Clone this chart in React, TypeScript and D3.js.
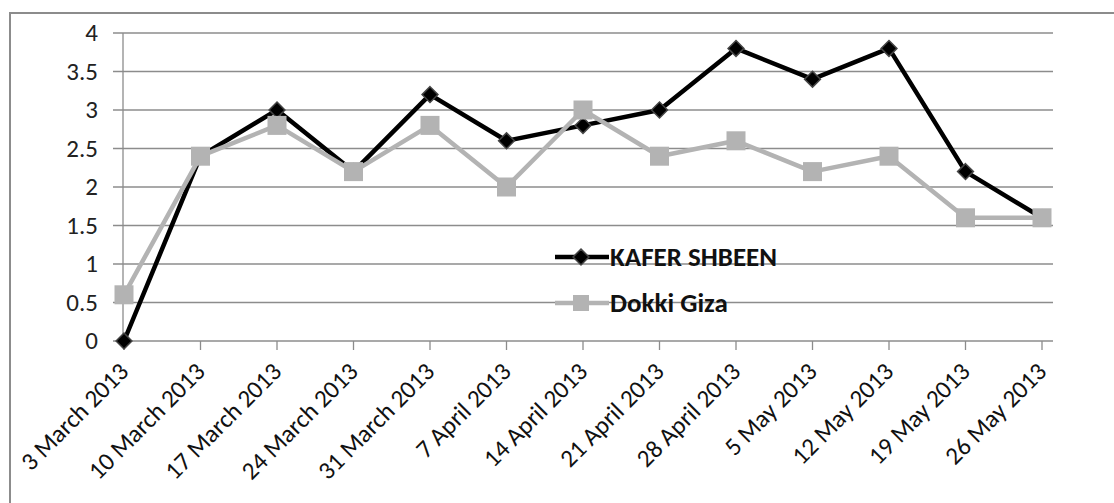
import * as d3 from "d3";
import React, { useEffect, useRef } from "react";

// fechas (categorias)
const dates = [
  "3 March 2013", "10 March 2013", "17 March 2013", "24 March 2013",
  "31 March 2013", "7 April 2013", "14 April 2013", "21 April 2013",
  "28 April 2013", "5 May 2013", "12 May 2013", "19 May 2013", "26 May 2013",
];
const kaferShbeen = [0, 2.4, 3.0, 2.2, 3.2, 2.6, 2.8, 3.0, 3.8, 3.4, 3.8, 2.2, 1.6];
const dokkiGiza = [0.6, 2.4, 2.8, 2.2, 2.8, 2.0, 3.0, 2.4, 2.6, 2.2, 2.4, 1.6, 1.6];
const yTicks = [0, 0.5, 1, 1.5, 2, 2.5, 3, 3.5, 4];

const App = () => {
  const svgRef = useRef<SVGSVGElement>(null);

  useEffect(() => {
    const w = 1114;
    const h = 503;
    const font = "Calibri, Carlito, 'DejaVu Sans', sans-serif";
    const gridColor = "#8c8c8c";

    const svg = d3.select(svgRef.current).attr("width", w).attr("height", h);
    svg.selectAll("*").remove();

    svg.append("rect").attr("width", w).attr("height", h).attr("fill", "white");
    // marco del grafico (se corta a la derecha y abajo)
    svg.append("rect")
      .attr("x", 10).attr("y", 13)
      .attr("width", w + 20).attr("height", h + 20)
      .attr("fill", "none").attr("stroke", gridColor).attr("stroke-width", 2);

    const xScale = d3.scalePoint<string>().domain(dates).range([124, 1042]);
    const yScale = d3.scaleLinear().domain([0, 4]).range([341, 33]);
    const plotRight = 1053;

    // lineas de la grilla
    svg.append("g")
      .selectAll("line")
      .data(yTicks)
      .enter()
      .append("line")
      .attr("x1", 113).attr("x2", plotRight)
      .attr("y1", d => yScale(d)).attr("y2", d => yScale(d))
      .attr("stroke", gridColor).attr("stroke-width", 1.3);

    // eje Y
    svg.append("line")
      .attr("x1", 123).attr("x2", 123)
      .attr("y1", yScale(4)).attr("y2", yScale(0))
      .attr("stroke", gridColor).attr("stroke-width", 1.3);

    svg.append("g")
      .selectAll("text")
      .data(yTicks)
      .enter()
      .append("text")
      .attr("x", 98)
      .attr("y", d => yScale(d))
      .attr("dy", "0.33em")
      .attr("text-anchor", "end")
      .attr("font-family", font)
      .attr("font-size", 25)
      .attr("fill", "#222")
      .text(d => String(d));

    // ticks del eje X
    svg.append("g")
      .selectAll("line")
      .data(dates)
      .enter()
      .append("line")
      .attr("x1", d => xScale(d)!).attr("x2", d => xScale(d)!)
      .attr("y1", yScale(0)).attr("y2", yScale(0) + 9)
      .attr("stroke", gridColor).attr("stroke-width", 1.3);

    svg.append("g")
      .selectAll("text")
      .data(dates)
      .enter()
      .append("text")
      .attr("transform", d => `translate(${xScale(d)! + 6},${yScale(0) + 32}) rotate(-45)`)
      .attr("text-anchor", "end")
      .attr("font-family", font)
      .attr("font-size", 25)
      .attr("fill", "#111")
      .text(d => d);

    const line = d3.line<number>()
      .x((_, i) => xScale(dates[i])!)
      .y(d => yScale(d));

    // serie KAFER SHBEEN
    svg.append("path")
      .datum(kaferShbeen)
      .attr("d", line)
      .attr("fill", "none")
      .attr("stroke", "black")
      .attr("stroke-width", 4.5)
      .attr("stroke-linejoin", "round");

    const diamond = d3.symbol().type(d3.symbolDiamond2).size(160);
    svg.append("g")
      .selectAll("path")
      .data(kaferShbeen)
      .enter()
      .append("path")
      .attr("d", diamond)
      .attr("transform", (d, i) => `translate(${xScale(dates[i])},${yScale(d)})`)
      .attr("fill", "black")
      .attr("stroke", "#444")
      .attr("stroke-width", 1.5);

    // serie Dokki Giza
    svg.append("path")
      .datum(dokkiGiza)
      .attr("d", line)
      .attr("fill", "none")
      .attr("stroke", "#b3b3b3")
      .attr("stroke-width", 4.5)
      .attr("stroke-linejoin", "round");

    const sq = 19;
    svg.append("g")
      .selectAll("rect")
      .data(dokkiGiza)
      .enter()
      .append("rect")
      .attr("x", (d, i) => xScale(dates[i])! - sq / 2)
      .attr("y", d => yScale(d) - sq / 2)
      .attr("width", sq)
      .attr("height", sq)
      .attr("fill", "#b3b3b3");

    // leyenda
    const legend = svg.append("g");
    legend.append("line")
      .attr("x1", 555).attr("x2", 609).attr("y1", 257).attr("y2", 257)
      .attr("stroke", "black").attr("stroke-width", 4.5);
    legend.append("path")
      .attr("d", diamond)
      .attr("transform", "translate(581,257)")
      .attr("fill", "black").attr("stroke", "#444").attr("stroke-width", 1.5);
    legend.append("text")
      .attr("x", 610).attr("y", 257).attr("dy", "0.34em")
      .attr("font-family", font).attr("font-size", 27).attr("font-weight", "bold")
      .attr("fill", "#111")
      .text("KAFER SHBEEN");

    legend.append("line")
      .attr("x1", 555).attr("x2", 609).attr("y1", 303).attr("y2", 303)
      .attr("stroke", "#b3b3b3").attr("stroke-width", 4.5);
    legend.append("rect")
      .attr("x", 581 - 8).attr("y", 303 - 8).attr("width", 16).attr("height", 16)
      .attr("fill", "#b3b3b3");
    legend.append("text")
      .attr("x", 610).attr("y", 303).attr("dy", "0.34em")
      .attr("font-family", font).attr("font-size", 27).attr("font-weight", "bold")
      .attr("fill", "#111")
      .text("Dokki Giza");
  }, []);

  return (
    <svg ref={svgRef} style={{ position: "absolute", left: 0, top: 0, display: "block" }} />
  );
};

export default App;
